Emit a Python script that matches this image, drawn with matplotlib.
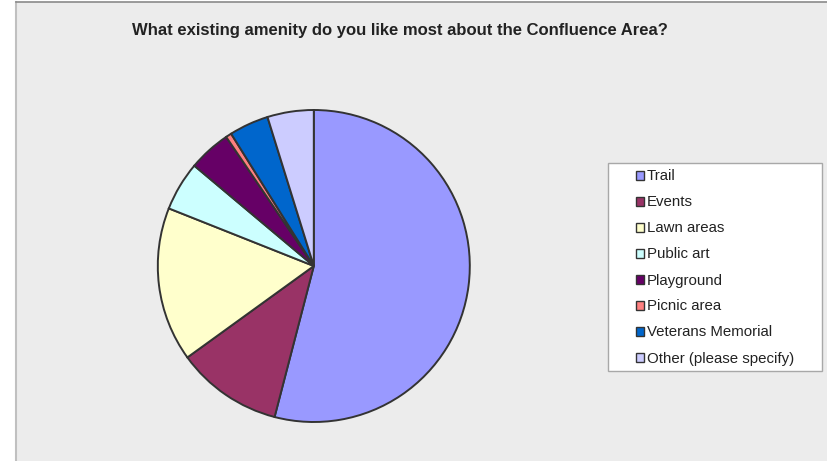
import matplotlib.pyplot as plt
from matplotlib.patches import Patch, Rectangle
from matplotlib.lines import Line2D

plt.rcParams['font.family'] = ['Liberation Sans', 'DejaVu Sans']

# Survey answers (share of responses, %)
labels = ['Trail', 'Events', 'Lawn areas', 'Public art', 'Playground',
          'Picnic area', 'Veterans Memorial', 'Other (please specify)']
shares = [54.1, 11.0, 16.0, 5.1, 4.4, 0.6, 4.1, 4.8]
colors = ['#9999FF', '#993366', '#FFFFCC', '#CCFFFF', '#660066',
          '#FF8080', '#0066CC', '#CCCCFF']

W, H = 827, 461
fig = plt.figure(figsize=(W / 100, H / 100), dpi=100, facecolor='white')

# grey chart area with thin borders
fig.patches.append(Rectangle((16 / W, 0), 1 - 16 / W, 1 - 2 / H, transform=fig.transFigure,
                             facecolor='#ECECEC', edgecolor='none', zorder=-2))
fig.lines.append(Line2D([16 / W, 16 / W], [0, 1 - 2 / H], transform=fig.transFigure,
                        color='#C0C0C0', lw=1.5, zorder=-1))
fig.lines.append(Line2D([16 / W, 1], [1 - 2.5 / H, 1 - 2.5 / H], transform=fig.transFigure,
                        color='#8A8A8A', lw=1.2, zorder=-1))

fig.text(400 / W, 1 - 30.5 / H, 'What existing amenity do you like most about the Confluence Area?',
         ha='center', va='center', fontsize=12, fontweight='bold', color='#222222')

# pie
cx, cy, r = 313.8, 266, 156
ax = fig.add_axes([(cx - r) / W, (H - cy - r) / H, 2 * r / W, 2 * r / H])
ax.set_zorder(2)
ax.pie(shares, colors=colors, startangle=90, counterclock=False, radius=1,
       wedgeprops=dict(edgecolor='#333333', linewidth=1.4))
ax.set_xlim(-1, 1)
ax.set_ylim(-1, 1)
ax.set_aspect('equal')
ax.axis('off')

# legend box
fig.patches.append(Rectangle((608 / W, 1 - 371 / H), (822 - 608) / W, (371 - 163) / H,
                             transform=fig.transFigure, facecolor='white',
                             edgecolor='#A8A8A8', lw=1, zorder=1))
handles = [Patch(facecolor=c, edgecolor='#333333', linewidth=1.0) for c in colors]
leg = fig.legend(handles, labels, loc='upper left', bbox_to_anchor=(625 / W, 1 - 159 / H),
                 frameon=False, fontsize=10.8, handlelength=0.55, handleheight=0.55,
                 handletextpad=0.2, labelspacing=0.80, borderpad=0.2)
leg.set_zorder(3)
for t in leg.get_texts():
    t.set_color('#222222')

fig.savefig('out.png', dpi=100, facecolor=fig.get_facecolor())
